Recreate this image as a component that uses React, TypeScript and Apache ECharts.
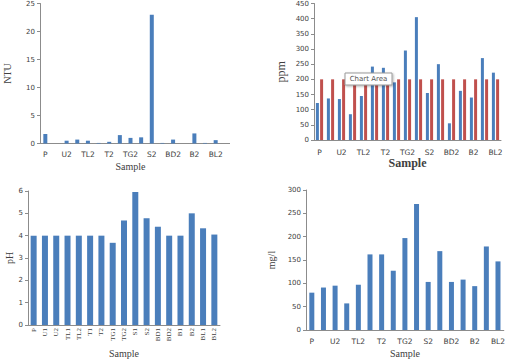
import React, { useEffect, useRef } from "react";
import * as echarts from "echarts";

const samples = ["P", "U1", "U2", "TL1", "TL2", "T1", "T2", "TG1", "TG2", "S1", "S2", "BD1", "BD2", "B1", "B2", "BL1", "BL2"];
const ntuValues = [1.7, 0, 0.5, 0.7, 0.5, 0.1, 0.3, 1.5, 1.0, 1.1, 23, 0.1, 0.7, 0, 1.8, 0.1, 0.6];
const ppmValues = [122, 137, 135, 85, 145, 242, 238, 190, 295, 405, 155, 250, 55, 162, 140, 270, 222];
const ppmLimit = [200, 200, 200, 200, 200, 200, 200, 200, 200, 200, 200, 200, 200, 200, 200, 200, 200];
const phValues = [4, 4, 4, 4, 4, 4, 4, 3.68, 4.68, 5.95, 4.78, 4.4, 4.0, 4.0, 5.0, 4.33, 4.05];
const mglValues = [80, 91, 95, 57, 97, 162, 162, 127, 197, 270, 103, 169, 103, 108, 94, 179, 147];

const BLUE = "#4a7ebb";
const RED = "#c0504d";
const AXIS = "#8c8c8c";
const TXT = "#404040";
const SANS = "DejaVu Sans";
const SERIF = "Liberation Serif";

function xAx(gridIndex: number, opts: any = {}) {
  return {
    type: "category",
    gridIndex,
    data: samples,
    axisLine: { lineStyle: { color: AXIS } },
    axisTick: { show: false },
    axisLabel: { interval: 1, fontFamily: SANS, fontSize: 7.5, color: TXT, margin: 7 },
    name: "Sample",
    nameLocation: "middle",
    nameGap: 18,
    nameTextStyle: { fontFamily: SERIF, fontSize: 10, color: TXT },
    ...opts,
  };
}

function yAx(gridIndex: number, name: string, max: number, interval: number, opts: any = {}) {
  return {
    type: "value",
    gridIndex,
    min: 0,
    max,
    interval,
    splitLine: { show: false },
    axisLine: { show: true, lineStyle: { color: AXIS } },
    axisTick: { show: true, length: 3, lineStyle: { color: AXIS } },
    axisLabel: { fontFamily: SANS, fontSize: 7, color: TXT, margin: 5 },
    name,
    nameLocation: "middle",
    nameRotate: 90,
    nameGap: 27,
    nameTextStyle: { fontFamily: SERIF, fontSize: 10, color: TXT },
    ...opts,
  };
}

export default function App() {
  const ref = useRef<HTMLDivElement>(null);
  useEffect(() => {
    if (!ref.current) return;
    const chart = echarts.init(ref.current, null, { renderer: "svg" });
    chart.setOption({
      animation: false,
      backgroundColor: "#ffffff",
      grid: [
        { left: 40, top: 2, width: 181, height: 141.5 },
        { left: 314, top: 3, width: 187, height: 137 },
        { left: 28, top: 191, width: 192, height: 136 },
        { left: 306, top: 190, width: 199, height: 141 },
      ],
      xAxis: [
        xAx(0),
        xAx(1, { nameGap: 17, nameTextStyle: { fontFamily: SERIF, fontSize: 12, fontWeight: "bold", color: TXT }, axisLabel: { interval: 1, fontFamily: SANS, fontSize: 7.5, color: TXT, margin: 8 } }),
        xAx(2, { axisLabel: { interval: 0, rotate: 90, fontFamily: SERIF, fontSize: 7, color: TXT, margin: 3 }, nameGap: 23 }),
        xAx(3, { nameGap: 18 }),
      ],
      yAxis: [
        yAx(0, "NTU", 25, 5, { nameGap: 28 }),
        yAx(1, "ppm", 450, 50, { nameGap: 27, nameTextStyle: { fontFamily: SERIF, fontSize: 12, color: TXT } }),
        yAx(2, "pH", 6, 1, { nameGap: 14 }),
        yAx(3, "mg/l", 300, 50, { nameGap: 30 }),
      ],
      series: [
        { type: "bar", xAxisIndex: 0, yAxisIndex: 0, data: ntuValues, barWidth: 4, itemStyle: { color: BLUE } },
        { type: "bar", xAxisIndex: 1, yAxisIndex: 1, data: ppmValues, barWidth: 3, barGap: "40%", itemStyle: { color: BLUE } },
        { type: "bar", xAxisIndex: 1, yAxisIndex: 1, data: ppmLimit, barWidth: 3, barGap: "40%", itemStyle: { color: RED } },
        { type: "bar", xAxisIndex: 2, yAxisIndex: 2, data: phValues, barWidth: 6, itemStyle: { color: BLUE } },
        { type: "bar", xAxisIndex: 3, yAxisIndex: 3, data: mglValues, barWidth: 5, itemStyle: { color: BLUE } },
      ],
      graphic: [
        { type: "line", shape: { x1: 221, y1: 143.5, x2: 230, y2: 143.5 }, style: { stroke: AXIS, lineWidth: 1 } },
        { type: "rect", z: 100, shape: { x: 345, y: 73, width: 47, height: 12 }, style: { fill: "#ffffff", stroke: "#9a9a9a", lineWidth: 1, shadowBlur: 2, shadowColor: "rgba(0,0,0,0.3)", shadowOffsetX: 1, shadowOffsetY: 1 } },
        { type: "text", z: 101, x: 368.5, y: 79, style: { text: "Chart Area", fontFamily: SANS, fontSize: 7, fill: "#555555", align: "center", verticalAlign: "middle" } },
      ],
    });
    return () => chart.dispose();
  }, []);
  return <div ref={ref} style={{ position: "fixed", left: 0, top: 0, width: 508, height: 359 }} />;
}
